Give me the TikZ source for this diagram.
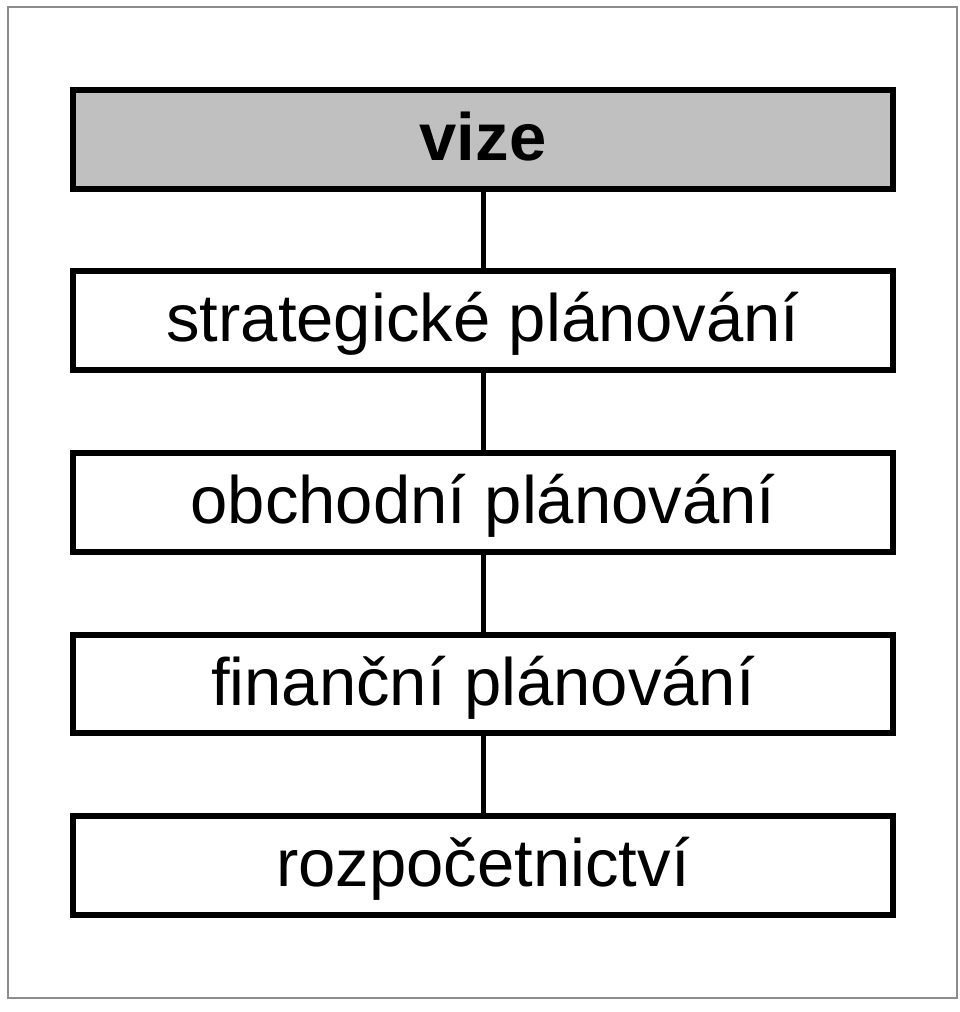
\documentclass[tikz,border=0pt]{standalone}
\usepackage{fontspec}
\setmainfont{Liberation Sans}
\definecolor{boxgray}{HTML}{C0C0C0}
\definecolor{framegray}{HTML}{8C8C8C}
\begin{document}
\begin{tikzpicture}[x=1pt,y=-1pt,
  levelbox/.style={draw=black, line width=6pt, fill=white, minimum width=820pt, minimum height=98.5pt,
    inner sep=0pt, text height=42pt, text depth=0pt, font=\fontsize{67}{80}\selectfont},
  topbox/.style={levelbox, fill=boxgray, font=\fontsize{67}{80}\selectfont\bfseries},
  link/.style={draw=black, line width=5pt}]
\useasboundingbox (0,0) rectangle (960,1012);
\draw[framegray, line width=1.5pt] (8,7) rectangle (957,998);
\node[topbox]   (vize) at (483,139.5) {vize};
\node[levelbox] (strat) at (483,320.5) {strategické plánování};
\node[levelbox] (obch) at (483,502.5) {obchodní plánování};
\node[levelbox] (fin) at (483,684) {finanční plánování};
\node[levelbox] (rozp) at (483,865.5) {rozpočetnictví};
\draw[link] (vize.south) -- (strat.north);
\draw[link] (strat.south) -- (obch.north);
\draw[link] (obch.south) -- (fin.north);
\draw[link] (fin.south) -- (rozp.north);
\end{tikzpicture}
\end{document}
